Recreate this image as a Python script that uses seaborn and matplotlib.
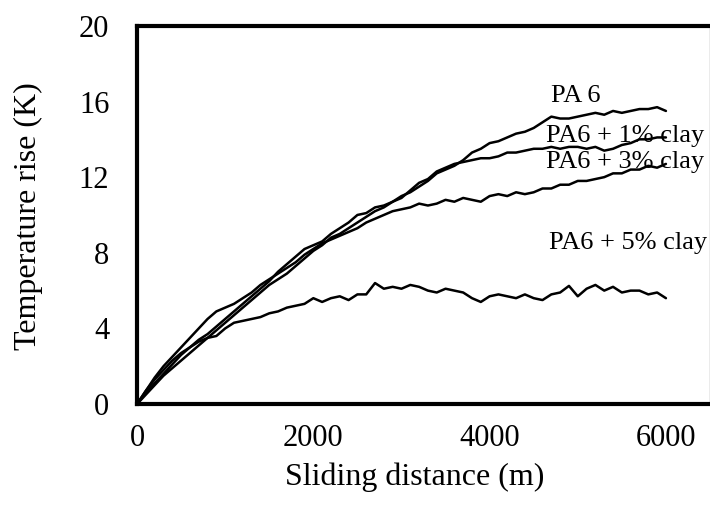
import numpy as np
import pandas as pd
import seaborn as sns
import matplotlib
matplotlib.use("Agg")
import matplotlib.pyplot as plt

distance = list(range(0, 6001, 100))

pa6 = [0, 0.6, 1.1, 1.6, 2.1, 2.6, 3.0, 3.4, 3.7, 4.1, 4.5, 4.9, 5.3, 5.7, 6.1, 6.5,
       7.0, 7.4, 7.8, 8.2, 8.4, 8.6, 9.0, 9.3, 9.6, 10.0, 10.1, 10.4, 10.5, 10.7, 11.0,
       11.2, 11.5, 11.8, 12.2, 12.4, 12.6, 12.9, 13.3, 13.5, 13.8, 13.9, 14.1, 14.3, 14.4,
       14.6, 14.9, 15.2, 15.1, 15.1, 15.2, 15.3, 15.4, 15.3, 15.5, 15.4, 15.5, 15.6, 15.6,
       15.7, 15.5]

pa6_1 = [0, 0.5, 1.0, 1.5, 1.9, 2.3, 2.7, 3.1, 3.5, 3.9, 4.3, 4.7, 5.1, 5.5, 5.9, 6.3,
         6.6, 6.9, 7.3, 7.7, 8.1, 8.4, 8.8, 9.0, 9.3, 9.6, 9.9, 10.2, 10.4, 10.7, 10.9,
         11.3, 11.7, 11.9, 12.3, 12.5, 12.7, 12.8, 12.9, 13.0, 13.0, 13.1, 13.3, 13.3, 13.4,
         13.5, 13.5, 13.6, 13.5, 13.6, 13.6, 13.5, 13.6, 13.4, 13.5, 13.7, 13.8, 14.0, 14.0,
         14.1, 14.1]

pa6_3 = [0, 0.7, 1.4, 2.0, 2.5, 3.0, 3.5, 4.0, 4.5, 4.9, 5.1, 5.3, 5.6, 5.9, 6.3, 6.6,
         6.9, 7.2, 7.5, 7.9, 8.2, 8.5, 8.7, 8.9, 9.1, 9.3, 9.6, 9.8, 10.0, 10.2, 10.3,
         10.4, 10.6, 10.5, 10.6, 10.8, 10.7, 10.9, 10.8, 10.7, 11.0, 11.1, 11.0, 11.2, 11.1,
         11.2, 11.4, 11.4, 11.6, 11.6, 11.8, 11.8, 11.9, 12.0, 12.2, 12.2, 12.4, 12.4, 12.6,
         12.5, 12.7]

pa6_5 = [0, 0.7, 1.3, 1.8, 2.3, 2.7, 3.0, 3.3, 3.5, 3.6, 4.0, 4.3, 4.4, 4.5, 4.6, 4.8,
         4.9, 5.1, 5.2, 5.3, 5.6, 5.4, 5.6, 5.7, 5.5, 5.8, 5.8, 6.4, 6.1, 6.2, 6.1,
         6.3, 6.2, 6.0, 5.9, 6.1, 6.0, 5.9, 5.6, 5.4, 5.7, 5.8, 5.7, 5.6, 5.8,
         5.6, 5.5, 5.8, 5.9, 6.25, 5.7, 6.1, 6.3, 6.0, 6.2, 5.9, 6.0, 6.0, 5.8,
         5.9, 5.6]

series_names = ["PA 6", "PA6 + 1% clay", "PA6 + 3% clay", "PA6 + 5% clay"]
label_x = [4700, 4640, 4640, 4670]
label_y = [16.3, 14.15, 12.8, 8.5]
xticks = [0, 2000, 4000, 6000]
yticks = [0, 4, 8, 12, 16, 20]

frames = []
for name, vals in zip(series_names, [pa6, pa6_1, pa6_3, pa6_5]):
    frames.append(pd.DataFrame({"distance": distance, "temp": vals, "series": name}))
df = pd.concat(frames, ignore_index=True)

sns.set_theme(style="white")
plt.rcParams["font.family"] = ["Liberation Serif", "DejaVu Serif"]

fig = plt.figure(figsize=(7.1, 5.07), dpi=100)
ax = fig.add_axes([0.193, 0.203, 0.807, 0.746])

sns.lineplot(data=df, x="distance", y="temp", units="series", estimator=None,
             color="black", linewidth=1.8, ax=ax, legend=False)

for name, lx, ly in zip(series_names, label_x, label_y):
    ax.text(lx, ly, name, fontsize=19, va="center", ha="left", color="black", clip_on=False)

ax.set_xlim(0, 6500)
ax.set_ylim(0, 20)
ax.set_xticks(xticks)
ax.set_yticks(yticks)
ax.tick_params(axis="both", direction="in", length=6, width=1, labelsize=22,
               colors="black")
ax.tick_params(axis="y", pad=20)
ax.tick_params(axis="x", pad=14)

for side in ["left", "top", "bottom"]:
    ax.spines[side].set_linewidth(3)
    ax.spines[side].set_color("black")
ax.spines["right"].set_linewidth(1)
ax.spines["right"].set_color("#999999")

ax.set_xlabel("Sliding distance (m)", fontsize=23, color="black")
ax.set_ylabel("Temperature rise (K)", fontsize=23, color="black")
ax.xaxis.set_label_coords(0.484, -0.155)
ax.yaxis.set_label_coords(-0.164, 0.496)

fig.savefig("out.png", dpi=100)
